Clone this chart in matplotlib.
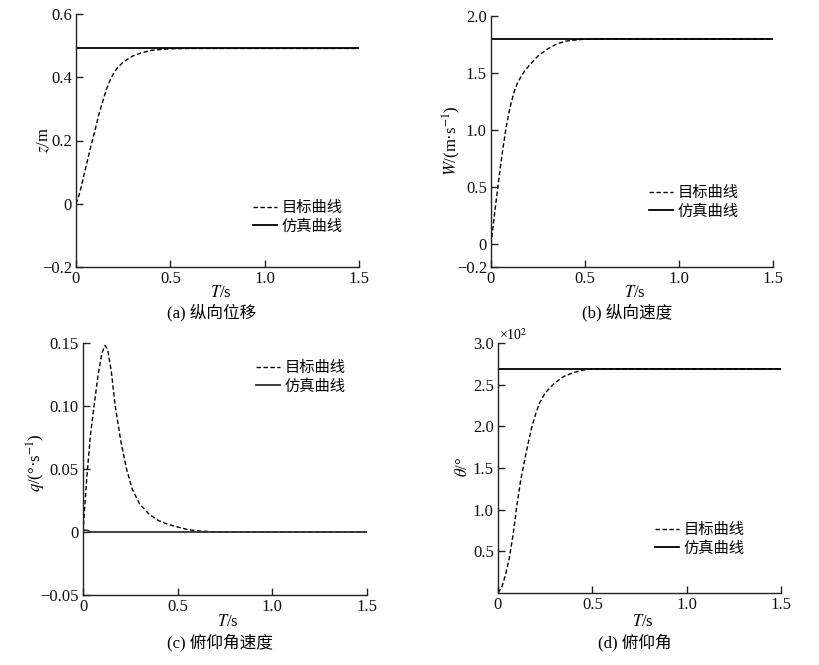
import matplotlib
matplotlib.use("Agg")
import matplotlib.pyplot as plt
import numpy as np

plt.rcParams['font.family'] = ['Liberation Serif', 'Noto Sans CJK SC']
plt.rcParams['mathtext.fontset'] = 'stix'
plt.rcParams['axes.unicode_minus'] = True

# ---------------- data ----------------
# (a) longitudinal displacement z
t_a = [0, 0.02, 0.04, 0.06, 0.08, 0.10, 0.12, 0.14, 0.16, 0.18, 0.20, 0.22, 0.25,
       0.30, 0.35, 0.40, 0.45, 0.50, 0.60, 0.80, 1.00, 1.20, 1.50]
z_target = [0, 0.035, 0.085, 0.135, 0.185, 0.23, 0.28, 0.32, 0.36, 0.39, 0.413, 0.43,
            0.448, 0.467, 0.478, 0.485, 0.488, 0.490, 0.491, 0.491, 0.491, 0.491, 0.491]
t_a_sim = [0, 1.5]
z_sim = [0.493, 0.493]

# (b) longitudinal velocity W
t_b = [0, 0.02, 0.04, 0.06, 0.08, 0.10, 0.12, 0.14, 0.16, 0.18, 0.20, 0.25, 0.30,
       0.35, 0.40, 0.45, 0.50, 0.60, 0.80, 1.00, 1.20, 1.50]
W_target = [0, 0.28, 0.55, 0.80, 1.02, 1.19, 1.32, 1.41, 1.47, 1.52, 1.56, 1.65, 1.71,
            1.755, 1.78, 1.79, 1.797, 1.80, 1.80, 1.80, 1.80, 1.80]
t_b_sim = [0, 1.5]
W_sim = [1.80, 1.80]

# (c) pitch rate q
t_c = [0, 0.02, 0.04, 0.06, 0.08, 0.10, 0.116, 0.13, 0.15, 0.17, 0.20, 0.23, 0.26,
       0.30, 0.35, 0.40, 0.45, 0.50, 0.55, 0.60, 0.70, 1.00, 1.50]
q_target = [0, 0.043, 0.078, 0.102, 0.125, 0.142, 0.148, 0.145, 0.127, 0.100, 0.072,
            0.050, 0.034, 0.022, 0.014, 0.009, 0.006, 0.004, 0.002, 0.001, 0.0, 0.0, 0.0]
t_c_sim = [0, 0.004, 0.025, 0.04, 1.50]
q_sim = [0, 0.0015, 0.0012, 0.0, 0.0]

# (d) pitch angle theta (x10^2)
t_d = [0, 0.02, 0.04, 0.06, 0.08, 0.10, 0.12, 0.14, 0.16, 0.18, 0.20, 0.22, 0.25,
       0.30, 0.35, 0.40, 0.45, 0.50, 0.60, 0.80, 1.00, 1.20, 1.50]
theta_target = [0, 0.07, 0.22, 0.42, 0.70, 1.05, 1.35, 1.58, 1.80, 2.00, 2.15, 2.28,
                2.40, 2.52, 2.60, 2.645, 2.675, 2.69, 2.69, 2.69, 2.69, 2.69, 2.69]
t_d_sim = [0, 1.5]
theta_sim = [2.69, 2.69]

x_ticks = [0, 0.5, 1.0, 1.5]
x_ticklabels = ['0', '0.5', '1.0', '1.5']
legend_labels = ['目标曲线', '仿真曲线']

panels = [
    dict(t=t_a, y=z_target, ts=t_a_sim, ys=z_sim, ylim=(-0.2, 0.6),
         yticks=[-0.2, 0, 0.2, 0.4, 0.6], yticklabels=['\u22120.2', '0', '0.2', '0.4', '0.6'],
         ylabel='$z$/m', caption='(a) 纵向位移',
         rect_px=(76, 14, 359, 267), leg=(0.625, 0.269), ylab_px=(44, 140),
         xlab_py=293, cap_px=(212, 313), scol='black'),
    dict(t=t_b, y=W_target, ts=t_b_sim, ys=W_sim, ylim=(-0.2, 2.0),
         yticks=[-0.2, 0, 0.5, 1.0, 1.5, 2.0], yticklabels=['\u22120.2', '0', '0.5', '1.0', '1.5', '2.0'],
         ylabel='$W$/(m·s$^{-1}$)', caption='(b) 纵向速度',
         rect_px=(491, 16, 773, 267), leg=(0.56, 0.331), ylab_px=(452, 141),
         xlab_py=293, cap_px=(627, 313), scol='black'),
    dict(t=t_c, y=q_target, ts=t_c_sim, ys=q_sim, ylim=(-0.05, 0.15),
         yticks=[-0.05, 0, 0.05, 0.10, 0.15], yticklabels=['\u22120.05', '0', '0.05', '0.10', '0.15'],
         ylabel='$q$/(°·s$^{-1}$)', caption='(c) 俯仰角速度',
         rect_px=(83, 343, 367, 595), leg=(0.609, 0.937), ylab_px=(36, 463),
         xlab_py=622, cap_px=(220, 643), scol='#333333'),
    dict(t=t_d, y=theta_target, ts=t_d_sim, ys=theta_sim, ylim=(0, 3.0),
         yticks=[0.5, 1.0, 1.5, 2.0, 2.5, 3.0], yticklabels=['0.5', '1.0', '1.5', '2.0', '2.5', '3.0'],
         ylabel='$\\theta$/°', caption='(d) 俯仰角',
         rect_px=(498, 343, 781, 593), leg=(0.555, 0.288), ylab_px=(463, 467),
         xlab_py=622, cap_px=(635, 643), scol='black'),
]

W_PX, H_PX = 820, 665
fig = plt.figure(figsize=(W_PX / 100, H_PX / 100), dpi=100)
axcol = '#222222'

for i, p in enumerate(panels):
    x0, y0, x1, y1 = p['rect_px']
    ax = fig.add_axes([x0 / W_PX, (H_PX - y1) / H_PX, (x1 - x0) / W_PX, (y1 - y0) / H_PX])
    ax.plot(p['t'], p['y'], color='black', lw=1.0, dashes=(3.2, 1.8), label=legend_labels[0])
    ax.plot(p['ts'], p['ys'], color=p['scol'], lw=1.3, label=legend_labels[1])
    ax.set_xlim(0, 1.5)
    ax.set_ylim(*p['ylim'])
    ax.set_xticks(x_ticks)
    ax.set_xticklabels(x_ticklabels)
    ax.set_yticks(p['yticks'])
    ax.set_yticklabels(p['yticklabels'])
    for s in ['top', 'right']:
        ax.spines[s].set_visible(False)
    for s in ['left', 'bottom']:
        ax.spines[s].set_color(axcol)
        ax.spines[s].set_linewidth(1.0)
    ax.tick_params(direction='in', length=5, width=1.0, colors=axcol, labelcolor='#111111',
                   labelsize=12, pad=3)
    leg = ax.legend(loc='upper left', bbox_to_anchor=p['leg'], frameon=False,
                    borderpad=0, borderaxespad=0, handlelength=1.55, handletextpad=0.3,
                    labelspacing=0.1, prop={'family': 'Noto Sans CJK SC', 'size': 11})
    # y label
    fig.text(p['ylab_px'][0] / W_PX, 1 - p['ylab_px'][1] / H_PX, p['ylabel'], rotation=90,
             ha='center', va='center', fontsize=12)
    # x label
    fig.text(((x0 + x1) / 2 + 3) / W_PX, 1 - p['xlab_py'] / H_PX, '$T$/s',
             ha='center', va='center', fontsize=12)
    # caption
    fig.text(p['cap_px'][0] / W_PX, 1 - p['cap_px'][1] / H_PX, p['caption'],
             ha='center', va='center', fontsize=12)
    if i == 3:
        ax.text(0.005, 1.0, '×10$^2$', transform=ax.transAxes, ha='left', va='bottom',
                fontsize=10)

fig.savefig('out.png', dpi=100)
